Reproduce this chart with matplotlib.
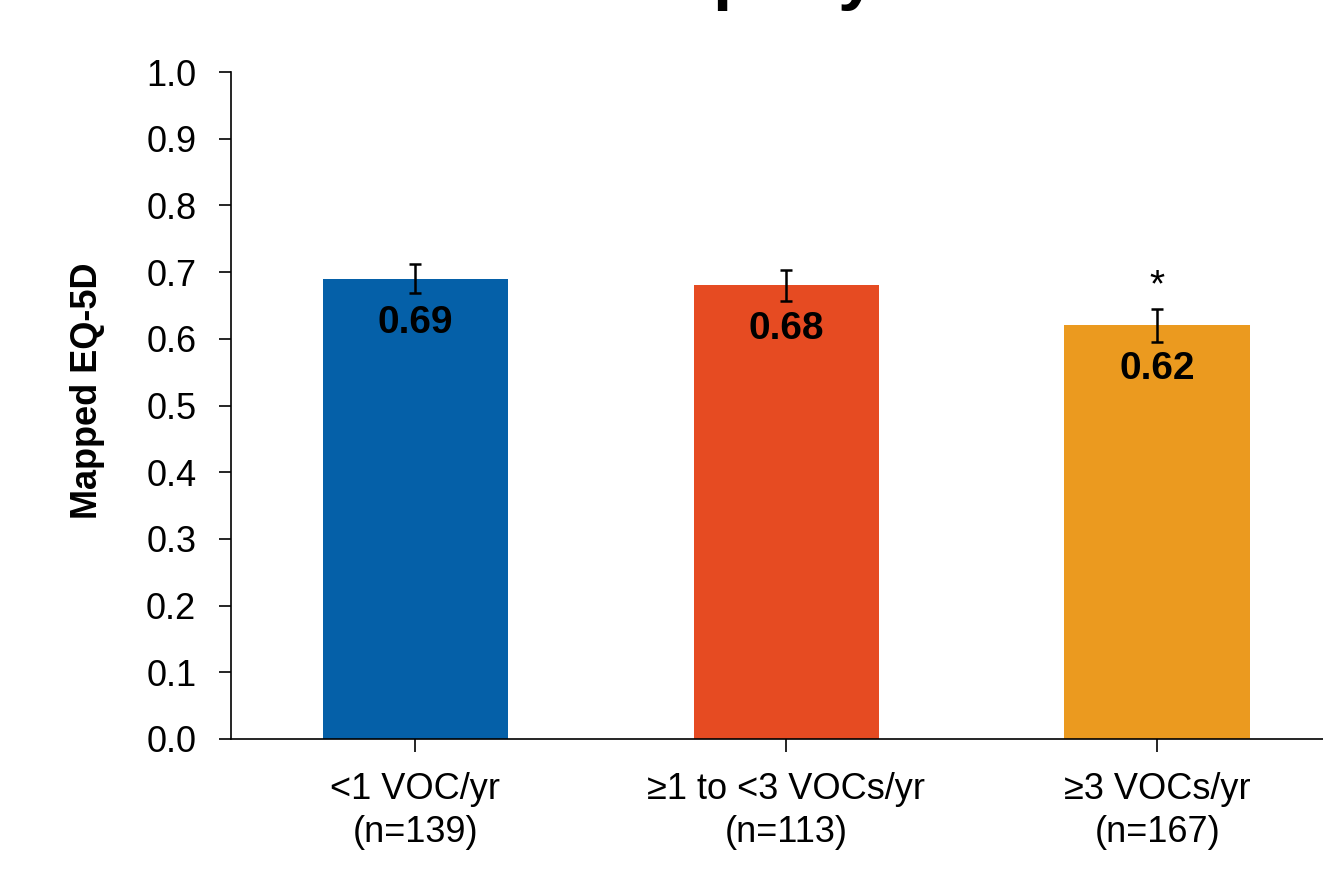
import numpy as np
import matplotlib.pyplot as plt

plt.rcParams['font.family'] = ['Liberation Sans', 'DejaVu Sans']

# data
groups = ['<1 VOC/yr\n(n=139)', '≥1 to <3 VOCs/yr\n(n=113)', '≥3 VOCs/yr\n(n=167)']
means = [0.69, 0.68, 0.62]
errs = [0.022, 0.023, 0.025]
signif = ['', '', '*']
colors = ['#0560a8', '#e64b22', '#eb9a1f']
yticks = [0.0, 0.1, 0.2, 0.3, 0.4, 0.5, 0.6, 0.7, 0.8, 0.9, 1.0]

fig = plt.figure(figsize=(13.23, 8.81), dpi=100)
ax = fig.add_axes([231/1323, (881-739)/881, 1 - 231/1323, (739-72)/881])

x = np.arange(len(groups))
ax.bar(x, means, width=0.5, color=colors, zorder=2)
ax.errorbar(x, means, yerr=errs, fmt='none', ecolor='black', elinewidth=1.8,
            capsize=4.5, capthick=1.8, zorder=3)

# value labels inside bars
for xi, m in zip(x, means):
    ax.text(xi, m - 0.066, '%.2f' % m, ha='center', va='center',
            fontsize=28, fontweight='bold', color='black', zorder=4)

# significance stars
for xi, m, e, s in zip(x, means, errs, signif):
    if s:
        ax.text(xi, m + e + 0.006, s, ha='center', va='bottom',
                fontsize=28, color='black')

ax.set_xlim(-0.497, 2.447)
ax.set_ylim(0, 1.0)
ax.set_yticks(yticks)
ax.set_yticklabels(['%.1f' % t for t in yticks], fontsize=26)
ax.set_xticks(x)
ax.set_xticklabels(groups, fontsize=26, linespacing=1.3)
ax.tick_params(axis='y', direction='out', length=9, width=1.2, pad=16)
ax.tick_params(axis='x', direction='out', length=9, width=1.2, pad=15)
ax.spines['top'].set_visible(False)
ax.spines['right'].set_visible(False)
ax.spines['left'].set_linewidth(1.2)
ax.spines['bottom'].set_linewidth(1.2)
ax.set_ylabel('Mapped EQ-5D', fontsize=26, fontweight='bold')
ax.yaxis.set_label_coords(-126/1092, (739-391)/667)

# title cut off at the top edge, only descenders visible
fig.text(734/1323, 1 + 3/881, 'p', ha='center', va='baseline',
         fontsize=50, fontweight='bold')
fig.text(857/1323, 1 + 3/881, 'y', ha='center', va='baseline',
         fontsize=50, fontweight='bold')

fig.savefig('out.png', dpi=100)
